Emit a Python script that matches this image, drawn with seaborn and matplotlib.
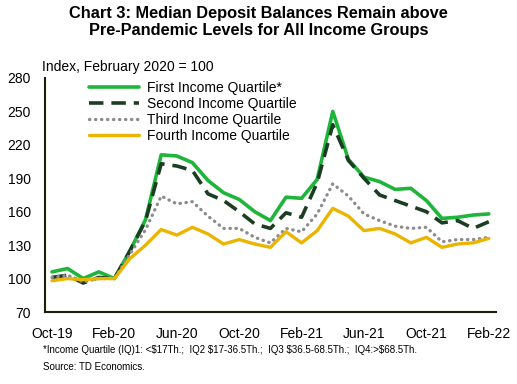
import numpy as np
import pandas as pd
import seaborn as sns
import matplotlib.pyplot as plt

months = pd.date_range('2019-10-01', '2022-02-01', freq='MS').strftime('%b-%y').tolist()

first_q = [106, 109, 100, 106, 100, 125, 153, 211, 210, 204, 188, 177, 171, 160, 152,
           173, 172, 189, 250, 207, 191, 187, 180, 181, 170, 154, 155, 157, 158]
second_q = [101, 103, 96, 101, 100, 125, 152, 203, 201, 197, 176, 170, 160, 149, 145,
            159, 155, 186, 238, 206, 190, 175, 170, 165, 160, 150, 152, 145, 151]
third_q = [101, 103, 97, 100, 100, 122, 144, 174, 167, 169, 156, 145, 145, 137, 132,
           145, 142, 158, 185, 174, 158, 152, 147, 145, 146, 133, 135, 135, 137]
fourth_q = [98, 100, 99, 100, 100, 118, 130, 144, 139, 146, 140, 131, 135, 131, 128,
            142, 132, 143, 163, 156, 143, 145, 140, 132, 137, 128, 131, 132, 136]

names = ['First Income Quartile*', 'Second Income Quartile',
         'Third Income Quartile', 'Fourth Income Quartile']
colors = ['#1EB53A', '#1B3D22', '#8C8C8C', '#EBB400']

df = pd.DataFrame({'month': months, names[0]: first_q, names[1]: second_q,
                   names[2]: third_q, names[3]: fourth_q})
df['i'] = np.arange(len(df))

sns.set_style('white')
plt.rcParams['font.family'] = ['Liberation Sans', 'DejaVu Sans']
plt.rcParams['text.color'] = 'black'

fig = plt.figure(figsize=(5.17, 3.84), dpi=100)
ax = fig.add_axes([0.087, 0.1875, 0.872, 0.6095])

# line styles: solid, long dash, round dots, solid
styles = [dict(lw=2.6), dict(lw=2.6, dashes=(4, 2.2)),
          dict(lw=2.4, dashes=(0.1, 1.7), dash_capstyle='round'), dict(lw=2.4)]
for name, c, st in zip(names, colors, styles):
    kw = dict(st)
    dashes = kw.pop('dashes', None)
    sns.lineplot(data=df, x='i', y=name, color=c, label=name, ax=ax, **kw)
    if dashes is not None:
        ax.lines[-1].set_dashes(dashes)

ax.set_xlim(-0.45, 28.45)
ax.set_ylim(70, 280)
ax.set_yticks(range(70, 281, 30))
ax.set_xticks(range(0, 29, 4))
ax.set_xticklabels([months[k] for k in range(0, 29, 4)])
ax.set_xlabel('')
ax.set_ylabel('')
ax.tick_params(axis='both', labelsize=10, length=0, colors='black')
ax.tick_params(axis='x', pad=11)
ax.tick_params(axis='y', pad=10)
for s in ['top', 'right']:
    ax.spines[s].set_visible(False)
for s in ['left', 'bottom']:
    ax.spines[s].set_color('#1A1F0A')
    ax.spines[s].set_linewidth(1.5)

leg = ax.legend(loc='upper left', bbox_to_anchor=(0.085, 1.012), frameon=False, fontsize=10,
                handlelength=3.6, labelspacing=0.15, handletextpad=0.6, borderaxespad=0)
for t in leg.get_texts():
    t.set_color('black')

fig.text(0.5, 0.985, 'Chart 3: Median Deposit Balances Remain above\nPre-Pandemic Levels for All Income Groups',
         ha='center', va='top', fontsize=11.8, fontweight='bold', linespacing=1.2)
fig.text(0.081, 0.807, 'Index, February 2020 = 100', fontsize=10, va='bottom')
fig.text(0.083, 0.101, '*Income Quartile (IQ)1: <\\$17Th.;  IQ2 \\$17-36.5Th.;  IQ3 \\$36.5-68.5Th.;  IQ4:>\\$68.5Th.\nSource: TD Economics.',
         fontsize=7, va='top', linespacing=1.9)

fig.savefig('out.png', dpi=100)
